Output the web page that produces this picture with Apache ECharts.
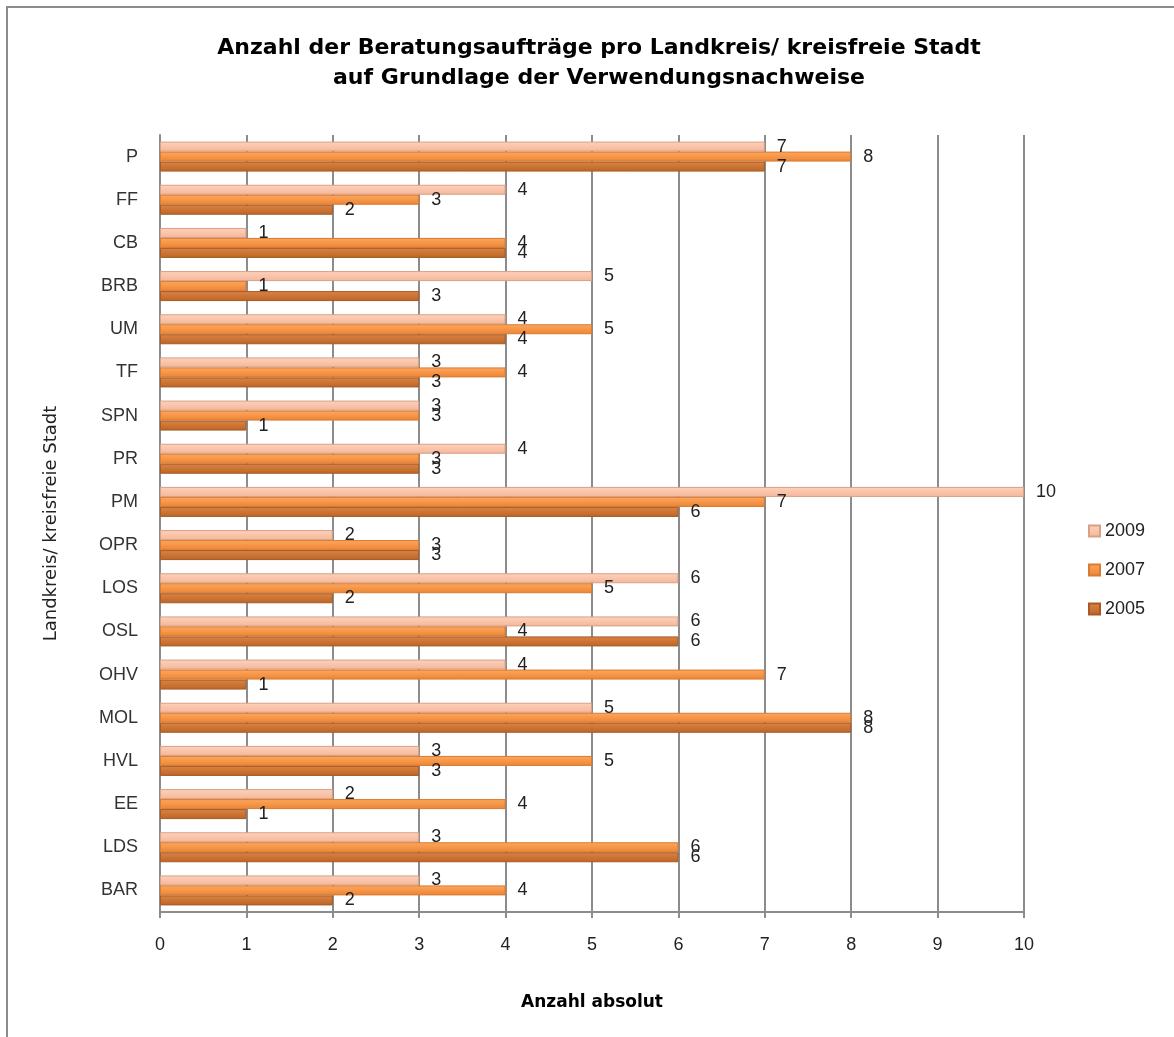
<!DOCTYPE html>
<html><head><meta charset="utf-8">
<script src="https://cdn.jsdelivr.net/npm/echarts@6/dist/echarts.min.js"></script>
<style>html,body{margin:0;padding:0;background:#fff}#c{width:1174px;height:1037px}</style>
</head><body><div id="c"></div>
<script>
var categories = ['BAR','LDS','EE','HVL','MOL','OHV','OSL','LOS','OPR','PM','PR','SPN','TF','UM','BRB','CB','FF','P'];
var v2009 = [3,3,2,3,5,4,6,6,2,10,4,3,3,4,5,1,4,7];
var v2007 = [4,6,4,5,8,7,4,5,3,7,3,3,4,5,1,4,3,8];
var v2005 = [2,6,1,3,8,1,6,2,3,6,3,1,3,4,3,4,2,7];
var xTicks = [0,1,2,3,4,5,6,7,8,9,10];

function grad(light, mid, dark){
  return new echarts.graphic.LinearGradient(0,0,0,1,[
    {offset:0,color:light},{offset:0.5,color:mid},{offset:1,color:dark}]);
}
function mk(name, data, color, border){
  return {
    name:name, type:'bar', data:data, barWidth:10, barGap:'0%',
    itemStyle:{color:color, borderColor:border, borderWidth:1},
    label:{show:true, position:'right', distance:12, color:'#222', fontSize:18, fontFamily:'Liberation Sans, Arial'}
  };
}
var chart = echarts.init(document.getElementById('c'));
chart.setOption({
  animation:false,
  textStyle:{fontFamily:'Liberation Sans, Arial'},
  graphic:[{type:'rect', shape:{x:7,y:7,width:1300,height:1200}, style:{fill:'none', stroke:'#8c8c8c', lineWidth:2}}],
  title:{
    text:'Anzahl der Beratungsaufträge pro Landkreis/ kreisfreie Stadt\nauf Grundlage der Verwendungsnachweise',
    left:594, textAlign:'center', top:28,
    textStyle:{fontSize:22, fontWeight:'bold', color:'#000', lineHeight:30, fontFamily:'DejaVu Sans'}
  },
  legend:{
    data:['2009','2007','2005'], orient:'vertical', left:1083, top:517, itemGap:21,
    itemWidth:11, itemHeight:11, icon:'rect',
    textStyle:{fontSize:18, color:'#222', fontFamily:'Liberation Sans, Arial'}
  },
  grid:{left:160, right:150, top:135, bottom:125},
  xAxis:{
    type:'value', min:0, max:10, interval:1,
    name:'Anzahl absolut', nameLocation:'middle', nameGap:82,
    nameTextStyle:{fontSize:17, fontWeight:'bold', color:'#000', fontFamily:'DejaVu Sans'},
    axisLine:{show:true, lineStyle:{color:'#8c8c8c', width:2}},
    axisTick:{show:true, length:6, lineStyle:{color:'#8c8c8c', width:2}},
    axisLabel:{fontSize:18, color:'#222', margin:24, formatter:function(v){return xTicks.indexOf(v)>=0?String(v):'';}},
    splitLine:{show:true, lineStyle:{color:'#8c8c8c', width:2}}
  },
  yAxis:{
    type:'category', data:categories,
    name:'Landkreis/ kreisfreie Stadt', nameLocation:'middle', nameGap:100, nameRotate:90,
    nameTextStyle:{fontSize:18, color:'#222', fontFamily:'DejaVu Sans'},
    axisLine:{show:true, lineStyle:{color:'#8c8c8c', width:2}},
    axisTick:{show:false},
    axisLabel:{fontSize:18, color:'#333', margin:22}
  },
  series:[
    mk('2009', v2009, grad('#fcd2bd','#fac4aa','#f2b79b'), '#d9a085'),
    mk('2007', v2007, grad('#fba862','#f79646','#e8843a'), '#d97b30'),
    mk('2005', v2005, grad('#d98448','#cd7433','#b8652a'), '#a85a24')
  ]
});
</script></body></html>
